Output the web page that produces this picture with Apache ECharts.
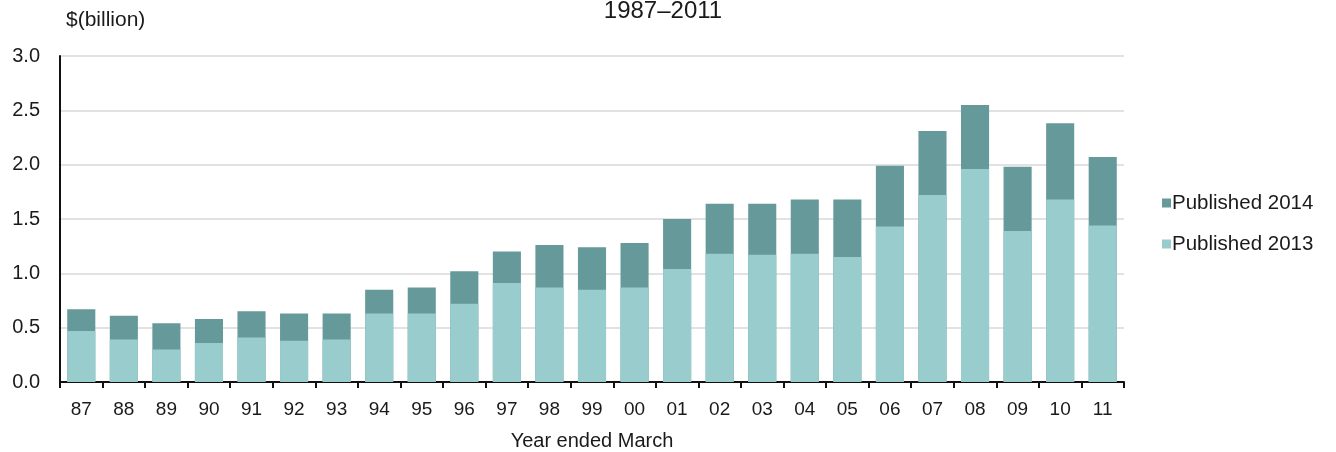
<!DOCTYPE html>
<html>
<head>
<meta charset="utf-8">
<title>Published 2013 vs 2014, 1987–2011</title>
<script src="https://cdn.jsdelivr.net/npm/echarts@6/dist/echarts.min.js"></script>
<style>
  html, body { margin: 0; padding: 0; background: #ffffff; }
  #chart { width: 1336px; height: 452px; }
</style>
</head>
<body>
<div id="chart"></div>
<script>
// Year ended March, two-digit labels
const years = ['87','88','89','90','91','92','93','94','95','96','97','98','99','00','01','02','03','04','05','06','07','08','09','10','11'];

// $(billion), estimates as published in 2014
const published2014 = [0.67, 0.61, 0.54, 0.58, 0.65, 0.63, 0.63, 0.85, 0.87, 1.02, 1.20, 1.26, 1.24, 1.28, 1.50, 1.64, 1.64, 1.68, 1.68, 1.99, 2.31, 2.55, 1.98, 2.38, 2.07];

// $(billion), estimates as published in 2013
const published2013 = [0.47, 0.39, 0.30, 0.36, 0.41, 0.38, 0.39, 0.63, 0.63, 0.72, 0.91, 0.87, 0.85, 0.87, 1.04, 1.18, 1.17, 1.18, 1.15, 1.43, 1.72, 1.96, 1.39, 1.68, 1.44];

const yTicks = { min: 0, max: 3, interval: 0.5 };

const FONT = '"Liberation Sans", Arial, sans-serif';
const TEXT = '#1a1a1a';
const DARK = '#669999';
const LIGHT = '#99cccc';

const chart = echarts.init(document.getElementById('chart'), null, { renderer: 'canvas' });

chart.setOption({
  animation: false,
  backgroundColor: '#ffffff',
  textStyle: { fontFamily: FONT, color: TEXT },
  title: [
    {
      text: '1987–2011',
      left: 658, top: -6,
      textAlign: 'center',
      textStyle: { fontFamily: FONT, fontSize: 24, fontWeight: 'normal', color: TEXT }
    },
    {
      text: '$(billion)',
      left: 61, top: 5,
      textStyle: { fontFamily: FONT, fontSize: 21, fontWeight: 'normal', color: TEXT }
    }
  ],
  legend: {
    orient: 'vertical',
    left: 1157, top: 187,
    icon: 'rect',
    itemWidth: 9, itemHeight: 9,
    itemGap: 19,
    data: ['Published 2014', 'Published 2013'],
    textStyle: { fontFamily: FONT, fontSize: 20.5, color: TEXT, padding: [0, 0, 0, -4], lineHeight: 22 }
  },
  grid: { left: 60, right: 212, top: 56, bottom: 70, containLabel: false, outerBoundsMode: 'none' },
  xAxis: {
    type: 'category',
    data: years,
    boundaryGap: true,
    name: 'Year ended March',
    nameLocation: 'middle',
    nameGap: 49,
    nameTextStyle: { fontFamily: FONT, fontSize: 20, color: TEXT },
    axisLine: { show: true, lineStyle: { color: '#111', width: 2 } },
    axisTick: { show: true, length: 6, alignWithLabel: false, lineStyle: { color: '#111', width: 2 } },
    axisLabel: { interval: 0, margin: 18, fontFamily: FONT, fontSize: 19, color: TEXT },
    splitLine: { show: false }
  },
  yAxis: {
    type: 'value',
    min: yTicks.min, max: yTicks.max, interval: yTicks.interval,
    axisLine: { show: true, lineStyle: { color: '#111', width: 2 } },
    axisTick: { show: false },
    axisLabel: {
      margin: 20, fontFamily: FONT, fontSize: 20, color: TEXT,
      formatter: v => v.toFixed(1)
    },
    splitLine: { show: true, lineStyle: { color: '#d9d9d9', width: 1.5 } }
  },
  series: [
    {
      name: 'Published 2014',
      type: 'bar',
      data: published2014,
      barWidth: '66%',
      barGap: '-100%',
      itemStyle: { color: DARK },
      z: 2
    },
    {
      name: 'Published 2013',
      type: 'bar',
      data: published2013,
      barWidth: '66%',
      barGap: '-100%',
      itemStyle: { color: LIGHT },
      z: 3
    }
  ]
});
</script>
</body>
</html>
